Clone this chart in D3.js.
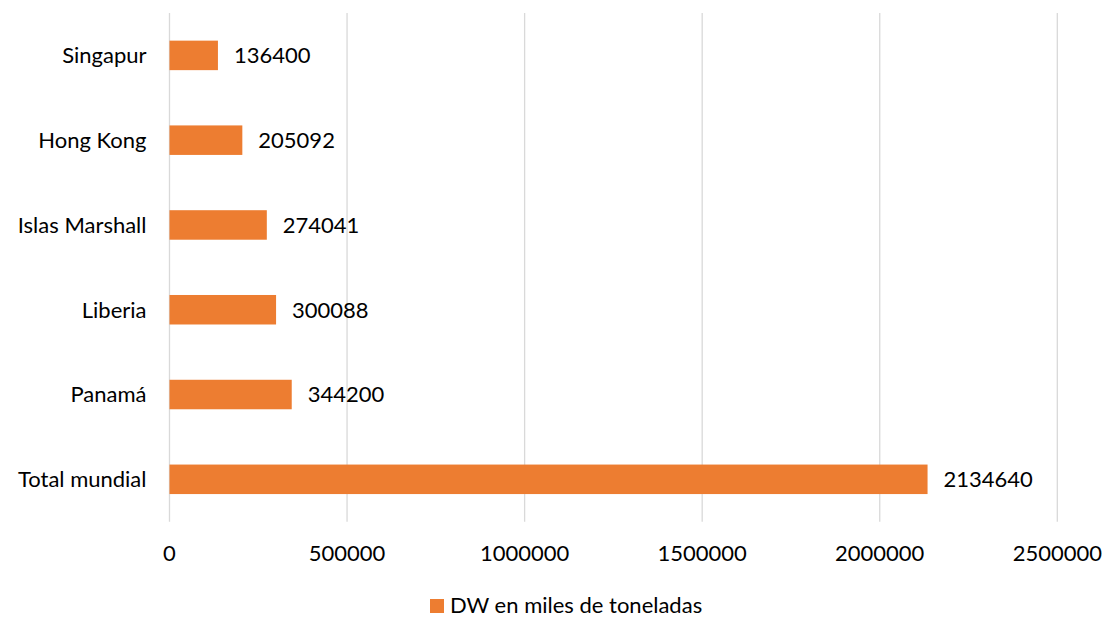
<!DOCTYPE html>
<html>
<head>
<meta charset="utf-8">
<script src="https://cdn.jsdelivr.net/npm/d3@7"></script>
<style>
  html, body { margin: 0; padding: 0; background: #fff; }
  svg text { font-family: Lato, "Open Sans", sans-serif; fill: #000; }
</style>
</head>
<body>
<svg id="chart" width="1107" height="618"></svg>
<script>
// Flag registries, deadweight tonnage (thousands of tonnes)
const categories = ["Singapur", "Hong Kong", "Islas Marshall", "Liberia", "Panamá", "Total mundial"];
const values = [136400, 205092, 274041, 300088, 344200, 2134640];
const xTicks = [0, 500000, 1000000, 1500000, 2000000, 2500000];
const seriesName = "DW en miles de toneladas";

const svg = d3.select("#chart");
const color = "#ED7D31";
const fontSize = 22;

const plot = { left: 169.5, right: 1057.3, top: 13, bottom: 521.7 };

const x = d3.scaleLinear().domain([0, 2500000]).range([plot.left, plot.right]);
const y = d3.scaleBand().domain(categories).range([plot.top, plot.bottom]).paddingInner(0.652).paddingOuter(0.326);

// vertical gridlines
svg.append("g").selectAll("line").data(xTicks).join("line")
  .attr("x1", d => x(d)).attr("x2", d => x(d))
  .attr("y1", plot.top).attr("y2", plot.bottom)
  .attr("stroke", "#d9d9d9").attr("stroke-width", 1.3);

// x tick labels
svg.append("g").selectAll("text").data(xTicks).join("text")
  .attr("x", d => x(d)).attr("y", 561)
  .attr("text-anchor", "middle")
  .attr("font-size", fontSize)
  .text(d => d3.format("d")(d));

// bars
svg.append("g").selectAll("rect").data(values).join("rect")
  .attr("x", x(0))
  .attr("y", (d, i) => y(categories[i]))
  .attr("width", d => x(d) - x(0))
  .attr("height", y.bandwidth())
  .attr("fill", color);

// value labels
svg.append("g").selectAll("text").data(values).join("text")
  .attr("x", d => x(d) + 16)
  .attr("y", (d, i) => y(categories[i]) + y.bandwidth() / 2)
  .attr("dy", "0.36em")
  .attr("font-size", fontSize)
  .text(d => d);

// category labels
svg.append("g").selectAll("text").data(categories).join("text")
  .attr("x", plot.left - 23)
  .attr("y", d => y(d) + y.bandwidth() / 2)
  .attr("dy", "0.36em")
  .attr("text-anchor", "end")
  .attr("font-size", fontSize)
  .text(d => d);

// legend
const legend = svg.append("g");
legend.append("rect").attr("x", 430).attr("y", 599).attr("width", 14).attr("height", 14).attr("fill", color);
legend.append("text").attr("x", 450).attr("y", 613).attr("font-size", fontSize).text(seriesName);
</script>
</body>
</html>
